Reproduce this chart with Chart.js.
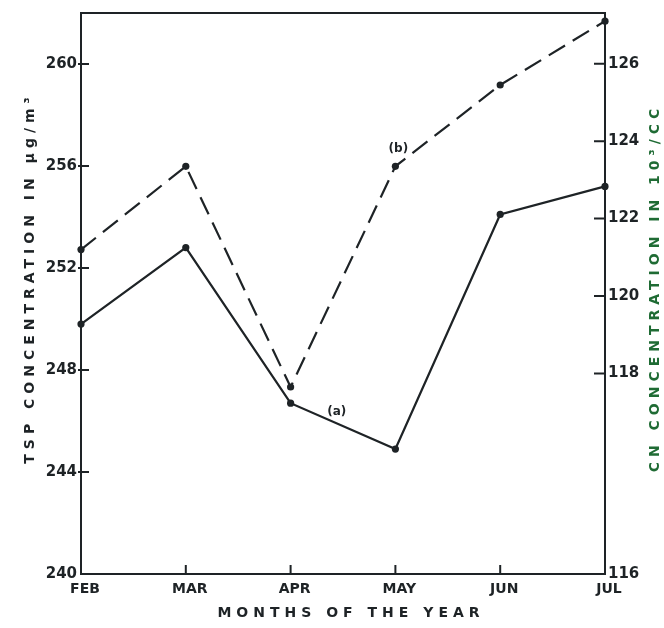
<!DOCTYPE html>
<html><head><meta charset="utf-8">
<script src="https://cdn.jsdelivr.net/npm/chart.js@4/dist/chart.umd.min.js"></script>
<style>html,body{margin:0;padding:0;background:#fff}#wrap{width:664px;height:628px}</style>
</head><body><div id="wrap"><canvas id="c" width="664" height="628"></canvas></div>
<script>
// Monthly means, February to July
const months = ['FEB', 'MAR', 'APR', 'MAY', 'JUN', 'JUL'];
// (a) total suspended particulates, µg/m³ (left axis)
const tspValues = [249.8, 252.8, 246.7, 244.9, 254.1, 255.2];
// (b) condensation nuclei, 10³/cc (right axis)
const cnValues = [121.2, 123.35, 117.65, 123.35, 125.45, 127.1];
const tspTicks = [240, 244, 248, 252, 256, 260];
// the right axis is broken: 116 marks its floor, 118–126 are evenly spaced
const cnTicks = [116, 118, 120, 122, 124, 126];
const cnRange = [112.82, 127.31];

const INK = '#1e2326';
const GREEN = '#1f6b34';
const FONT = 'DejaVu Sans';

const frameAndNotes = {
  id: 'frameAndNotes',
  afterDraw(chart) {
    const { ctx, chartArea: a, scales } = chart;
    ctx.save();
    ctx.strokeStyle = INK;
    ctx.lineWidth = 2;
    ctx.lineCap = 'butt';
    // top edge of the frame
    ctx.beginPath();
    ctx.moveTo(a.left - 1, a.top);
    ctx.lineTo(a.right + 1, a.top);
    ctx.stroke();
    // inward tick marks
    ctx.beginPath();
    scales.y.ticks.forEach(t => {
      const y = scales.y.getPixelForValue(t.value);
      if (Math.abs(y - a.bottom) < 2) return;
      ctx.moveTo(a.left - 3, y); ctx.lineTo(a.left + 8, y);
    });
    scales.y1.ticks.forEach(t => {
      const y = scales.y1.getPixelForValue(t.value);
      if (Math.abs(y - a.bottom) < 2) return;
      ctx.moveTo(a.right - 11, y); ctx.lineTo(a.right + 1, y);
    });
    scales.x.ticks.forEach((t, i) => {
      if (i === 0 || i === months.length - 1) return;
      const x = scales.x.getPixelForValue(i);
      ctx.moveTo(x, a.bottom); ctx.lineTo(x, a.bottom - 9);
    });
    ctx.stroke();

    // curve labels
    ctx.fillStyle = INK;
    ctx.font = `bold 12px ${FONT}`;
    ctx.textAlign = 'center';
    ctx.textBaseline = 'middle';
    const mA = chart.getDatasetMeta(0).data;
    const mB = chart.getDatasetMeta(1).data;
    const p2 = mA[2], p3 = mA[3];
    const xa = p2.x + (p3.x - p2.x) * 0.44;
    const ya = p2.y + (p3.y - p2.y) * 0.44;
    ctx.fillText('(a)', xa, ya - 11);
    ctx.fillText('(b)', mB[3].x + 3, mB[3].y - 17);

    // axis titles with wide lettering
    ctx.font = `bold 14px ${FONT}`;
    ctx.letterSpacing = '5px';
    ctx.fillText('MONTHS OF THE YEAR', (a.left + a.right) / 2 + 8, 613);

    ctx.save();
    ctx.translate(30, 278);
    ctx.rotate(-Math.PI / 2);
    ctx.fillText('TSP CONCENTRATION IN μg/m³', 0, 0);
    ctx.restore();

    ctx.save();
    ctx.fillStyle = GREEN;
    ctx.translate(655, 288);
    ctx.rotate(-Math.PI / 2);
    ctx.fillText('CN CONCENTRATION IN 10³/CC', 0, 0);
    ctx.restore();
    ctx.restore();
  }
};

const tickFont = { family: FONT, size: 15, weight: 'bold' };

new Chart(document.getElementById('c'), {
  type: 'line',
  data: {
    labels: months,
    datasets: [
      {
        label: '(a)',
        data: tspValues,
        yAxisID: 'y',
        borderColor: INK,
        backgroundColor: INK,
        borderWidth: 2.2,
        pointRadius: 3.6,
        pointBorderWidth: 0,
        tension: 0,
        clip: false
      },
      {
        label: '(b)',
        data: cnValues,
        yAxisID: 'y1',
        borderColor: INK,
        backgroundColor: INK,
        borderWidth: 2.2,
        borderDash: [19, 9],
        pointRadius: 3.6,
        pointBorderWidth: 0,
        tension: 0,
        clip: false
      }
    ]
  },
  options: {
    responsive: false,
    animation: false,
    devicePixelRatio: 1,
    layout: { padding: { top: 9, left: 0, right: 0, bottom: 0 } },
    plugins: { legend: { display: false }, tooltip: { enabled: false } },
    scales: {
      x: {
        type: 'category',
        offset: false,
        grid: { display: false, drawTicks: false },
        border: { display: true, color: INK, width: 2 },
        ticks: { color: INK, font: { family: FONT, size: 14, weight: 'bold' }, padding: 7, labelOffset: 4, maxRotation: 0, autoSkip: false },
        afterFit: s => { s.height = 54; }
      },
      y: {
        position: 'left',
        min: 240,
        max: 262,
        afterBuildTicks: s => { s.ticks = tspTicks.map(v => ({ value: v })); },
        grid: { display: false, drawTicks: false },
        border: { display: true, color: INK, width: 2 },
        ticks: { color: INK, font: tickFont, padding: 4 },
        afterFit: s => { s.width = 81; }
      },
      y1: {
        position: 'right',
        min: cnRange[0],
        max: cnRange[1],
        // floor label sits at the bottom of the broken axis
        afterBuildTicks: s => {
          s.ticks = cnTicks.map((v, i) => ({ value: i === 0 ? cnRange[0] : v }));
        },
        grid: { display: false, drawTicks: false },
        border: { display: true, color: INK, width: 2 },
        ticks: {
          color: INK, font: tickFont, padding: 3,
          callback: (v, i) => String(cnTicks[i])
        },
        afterFit: s => { s.width = 59; }
      }
    }
  },
  plugins: [frameAndNotes]
});
</script>
</body></html>
